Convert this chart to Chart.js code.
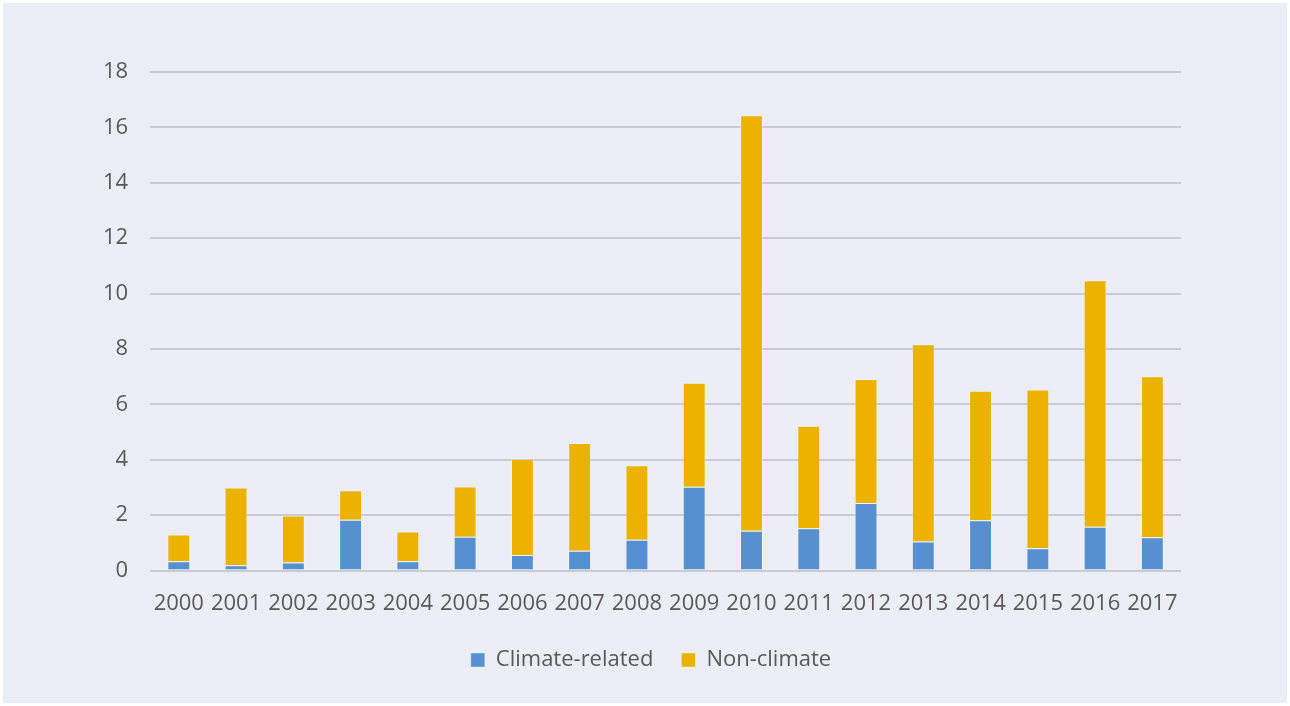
<!DOCTYPE html>
<html lang="en">
<head>
    <meta charset="UTF-8">
    <title>Climate-related vs non-climate</title>
    <script src="https://cdn.jsdelivr.net/npm/chart.js"></script>
    <style>
        html, body { margin: 0; padding: 0; background: #ffffff; }
        .frame {
            position: absolute; left: 3px; top: 3px;
            width: 1284px; height: 700px;
            background: #ebeef7;
        }
        canvas { display: block; }
    </style>
</head>
<body>
    <div class="frame">
        <canvas id="chartDisasters" width="1284" height="700"></canvas>
    </div>
</body>
</html>
<script>
    const years = ['2000', '2001', '2002', '2003', '2004', '2005', '2006', '2007', '2008',
                   '2009', '2010', '2011', '2012', '2013', '2014', '2015', '2016', '2017'];
    const climateRelated = [0.34, 0.19, 0.29, 1.84, 0.34, 1.22, 0.56, 0.72, 1.11,
                            3.03, 1.44, 1.53, 2.44, 1.05, 1.82, 0.81, 1.58, 1.20];
    const nonClimate = [0.96, 2.81, 1.70, 1.06, 1.07, 1.82, 3.48, 3.89, 2.69,
                        3.75, 15.0, 3.70, 4.48, 7.12, 4.67, 5.73, 8.90, 5.82];
    const yTicks = [0, 2, 4, 6, 8, 10, 12, 14, 16, 18];

    // legend is centred on the whole frame, not on the padded area
    const shiftLegend = {
        id: 'shiftLegend',
        afterLayout(chart) {
            chart.legend.left += 20;
            chart.legend.right += 20;
        }
    }

    function renderChart() {
        const textColor = '#595959';
        const gridColor = '#c9cbd4';
        const font = { family: 'Open Sans', size: 22 };

        const chartData = {
            labels: years,
            datasets: [
                {
                    label: 'Climate-related',
                    data: climateRelated,
                    backgroundColor: '#5591d0',
                    borderColor: 'rgba(255,255,255,0.35)',
                    borderWidth: 1,
                    categoryPercentage: 0.4,
                    barPercentage: 1
                },
                {
                    label: 'Non-climate',
                    data: nonClimate,
                    backgroundColor: '#ebb300',
                    borderColor: 'rgba(255,255,255,0.35)',
                    borderWidth: 1,
                    categoryPercentage: 0.4,
                    barPercentage: 1
                }
            ]
        }

        const chartConfig = {
            type: 'bar',
            data: chartData,
            plugins: [shiftLegend],
            options: {
                responsive: false,
                animation: { duration: 0 },
                layout: {
                    padding: { left: 78, right: 106, top: 69, bottom: 22 }
                },
                plugins: {
                    legend: {
                        position: 'bottom',
                        labels: {
                            color: textColor,
                            font: font,
                            boxWidth: 14,
                            boxHeight: 14,
                            padding: 28
                        }
                    },
                    tooltip: { enabled: false }
                },
                scales: {
                    x: {
                        stacked: true,
                        grid: { display: false },
                        border: { display: false },
                        // pull the legend up a bit closer to the year labels
                        afterFit: scale => { scale.height -= 8; },
                        ticks: {
                            color: textColor,
                            font: font,
                            padding: 12,
                            maxRotation: 0,
                            autoSkip: false
                        }
                    },
                    y: {
                        stacked: true,
                        min: 0,
                        max: 18,
                        afterBuildTicks: axis => {
                            axis.ticks = yTicks.map(v => ({ value: v }));
                        },
                        grid: {
                            color: gridColor,
                            lineWidth: 2,
                            drawTicks: false
                        },
                        border: { display: false },
                        ticks: {
                            color: textColor,
                            font: font,
                            padding: 22
                        }
                    }
                }
            }
        }

        new Chart(document.getElementById('chartDisasters'), chartConfig);
    }

    renderChart();
</script>
